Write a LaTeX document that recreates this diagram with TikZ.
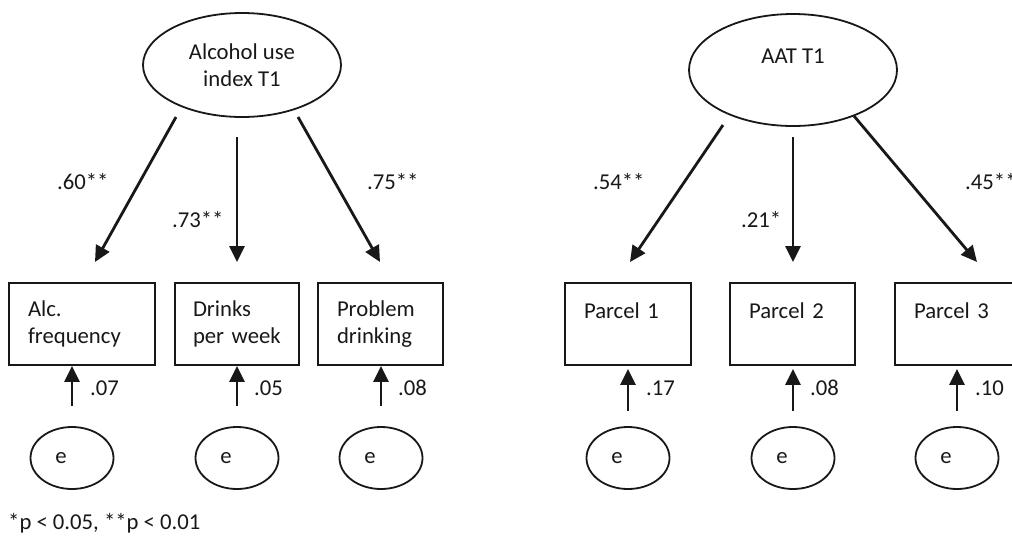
\documentclass[tikz,border=0pt]{standalone}
\usepackage{fontspec}
\setmainfont{Carlito}
\usetikzlibrary{arrows.meta,shapes.geometric}
\definecolor{ink}{HTML}{1A1718}
\tikzset{
  every node/.style={text=ink, font=\fontsize{22.7}{27}\selectfont},
  latent/.style={draw=ink, ellipse, line width=1.8pt, inner sep=0pt, align=center},
  errvar/.style={draw=ink, ellipse, line width=1.8pt, inner sep=0pt,
                 minimum width=83pt, minimum height=62pt},
  indicator/.style={draw=ink, rectangle, line width=1.8pt, inner xsep=19pt, inner ysep=0pt,
                    minimum height=82pt, align=left},
  load/.style={draw=ink, line width=2.8pt, -{Triangle[width=15pt,length=16pt]}},
  coef/.style={inner sep=0pt, anchor=west},
}
\begin{document}
\begin{tikzpicture}[x=1pt,y=-1pt]
\useasboundingbox (0,0) rectangle (1012,536);
\clip (0,0) rectangle (1012,536);

% ---- left model: alcohol use index ----
\node[latent, minimum width=198pt, minimum height=104pt] (alc) at (242,65)
  {Alcohol use\\index T1};
\node[indicator, text width=108pt] (freq) at (82,324) {Alc.\\frequency};
\node[indicator, inner xsep=18pt, text width=88pt] (dpw) at (237,324) {Drinks\\per~week};
\node[indicator, text width=87pt]  (prob) at (380.5,324) {Problem\\drinking};

\coordinate (a1s) at (176,117);  \coordinate (a1e) at (95,262);
\coordinate (a2s) at (237,137);  \coordinate (a2e) at (237,262);
\coordinate (a3s) at (298,117);  \coordinate (a3e) at (380,262);
\draw[load] (a1s) -- (a1e);
\draw[load] (a2s) -- (a2e);
\draw[load] (a3s) -- (a3e);
\node[coef] (c1) at (57,182)  {.60**};
\node[coef] (c2) at (172,220) {.73**};
\node[coef] (c3) at (367,182) {.75**};

\node[errvar] (e1) at (72,458)  {e\hspace*{22pt}};
\node[errvar] (e2) at (237,458) {e\hspace*{22pt}};
\node[errvar] (e3) at (381,458) {e\hspace*{22pt}};
\draw[load] ([yshift=20pt]e1.north) -- (e1.north |- freq.south);
\draw[load] ([yshift=20pt]e2.north) -- (e2.north |- dpw.south);
\draw[load] ([yshift=20pt]e3.north) -- (e3.north |- prob.south);
\node[coef] (r1) at (90,388)  {.07};
\node[coef] (r2) at (254,388) {.05};
\node[coef] (r3) at (398,388) {.08};

% ---- right model: approach-avoidance task ----
\node[latent, minimum width=208pt, minimum height=112pt] (aat) at (793,70)
  {AAT T1\\\mbox{}};
\node[indicator, text width=88pt] (p1) at (628,324) {Parcel 1\\\mbox{}};
\node[indicator, text width=87pt] (p2) at (792.5,324) {Parcel 2\\\mbox{}};
\node[indicator, text width=87pt] (p3) at (957.5,324) {Parcel 3\\\mbox{}};

\coordinate (b1s) at (723,125);  \coordinate (b1e) at (630,262);
\coordinate (b2s) at (793,137);  \coordinate (b2e) at (793,262);
\coordinate (b3s) at (854,116);  \coordinate (b3e) at (977,262);
\draw[load] (b1s) -- (b1e);
\draw[load] (b2s) -- (b2e);
\draw[load] (b3s) -- (b3e);
\node[coef] (d1) at (593,182) {.54**};
\node[coef] (d2) at (741,220) {.21*};
\node[coef] (d3) at (965,182) {.45**};

\node[errvar] (f1) at (628,458) {e\hspace*{22pt}};
\node[errvar] (f2) at (793,458) {e\hspace*{22pt}};
\node[errvar] (f3) at (957,458) {e\hspace*{22pt}};
\draw[load] ([yshift=15pt]f1.north) -- ([yshift=-3pt]f1.north |- p1.south);
\draw[load] ([yshift=15pt]f2.north) -- ([yshift=-3pt]f2.north |- p2.south);
\draw[load] ([yshift=15pt]f3.north) -- ([yshift=-3pt]f3.north |- p3.south);
\node[coef] (s1) at (646,388) {.17};
\node[coef] (s2) at (810,388) {.08};
\node[coef] (s3) at (975,388) {.10};

% ---- significance note ----
\node[coef] (note) at (8,523) {*p < 0.05, **p < 0.01};
\end{tikzpicture}
\end{document}
